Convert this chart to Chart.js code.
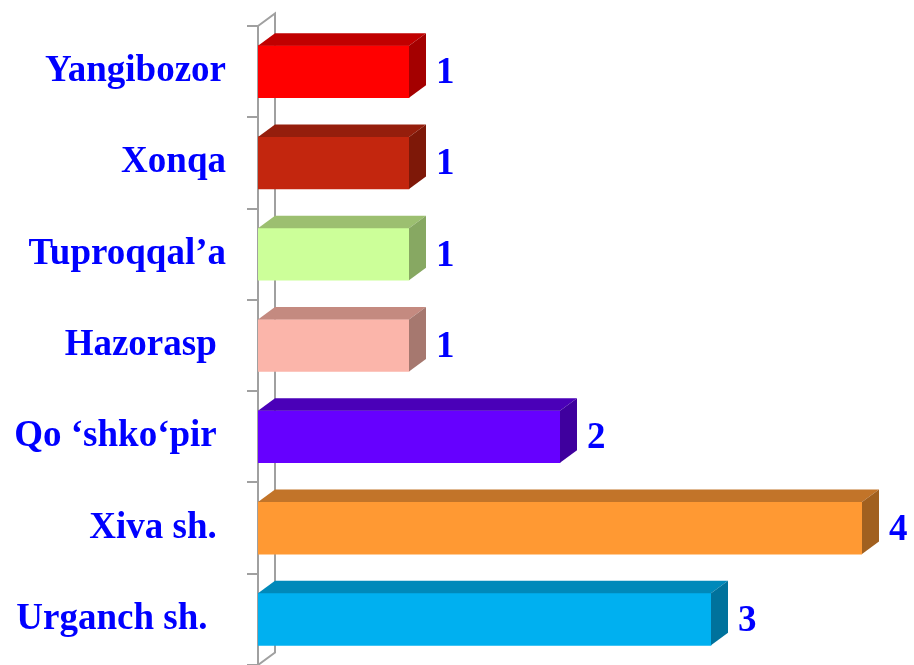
<!DOCTYPE html>
<html>
<head>
<meta charset="utf-8">
<script src="https://cdn.jsdelivr.net/npm/chart.js@4.4.0/dist/chart.umd.min.js"></script>
<style>
html,body{margin:0;padding:0;background:#fff;overflow:hidden;}
#wrap{width:914px;height:665px;position:relative;}
</style>
</head>
<body>
<div id="wrap"><canvas id="c" width="914" height="665"></canvas></div>
<script>
// Data
const categories = ["Yangibozor", "Xonqa", "Tuproqqal\u2019a", "Hazorasp ", "Qo \u2018shko\u2018pir ", "Xiva sh. ", "Urganch sh.  "];
const values = [1, 1, 1, 1, 2, 4, 3];
const frontColors = ["#FF0000", "#C3260E", "#CCFF99", "#FBB5AA", "#6600FF", "#FF9933", "#00B0F0"];
const topColors   = ["#C00000", "#951E0C", "#9CBF70", "#C48A80", "#4A00B8", "#C27429", "#0089BA"];
const sideColors  = ["#A40000", "#7E1808", "#87A862", "#A6786F", "#3F009E", "#A1601F", "#00729C"];

const DX = 17, DY = -12.5;
const LABEL_FONT = "bold 37px 'Liberation Serif', 'Times New Roman', serif";
const BLUE = "#0000FF";
const GRAY = "#A0A0A0";

const wallPlugin = {
  id: 'wall',
  beforeDatasetsDraw(chart) {
    const ctx = chart.ctx, a = chart.chartArea;
    ctx.save();
    ctx.strokeStyle = GRAY;
    ctx.lineWidth = 2;
    ctx.beginPath();
    ctx.moveTo(a.left, a.top);
    ctx.lineTo(a.left + DX, a.top + DY);
    ctx.lineTo(a.left + DX, a.bottom + DY);
    ctx.lineTo(a.left, a.bottom);
    ctx.stroke();
    ctx.restore();
  }
};

const box3dPlugin = {
  id: 'box3d',
  afterDatasetsDraw(chart) {
    const ctx = chart.ctx;
    const meta = chart.getDatasetMeta(0);
    ctx.save();
    meta.data.forEach((bar, i) => {
      const p = bar.getProps(['x', 'y', 'base', 'height'], true);
      const top = p.y - p.height / 2, bottom = p.y + p.height / 2;
      const left = p.base, right = p.x;
      // top face
      ctx.fillStyle = topColors[i];
      ctx.beginPath();
      ctx.moveTo(left, top);
      ctx.lineTo(left + DX, top + DY);
      ctx.lineTo(right + DX, top + DY);
      ctx.lineTo(right, top);
      ctx.closePath();
      ctx.fill();
      // side face
      ctx.fillStyle = sideColors[i];
      ctx.beginPath();
      ctx.moveTo(right, top);
      ctx.lineTo(right + DX, top + DY);
      ctx.lineTo(right + DX, bottom + DY);
      ctx.lineTo(right, bottom);
      ctx.closePath();
      ctx.fill();
      // value label
      ctx.fillStyle = BLUE;
      ctx.font = LABEL_FONT;
      ctx.textAlign = 'left';
      ctx.textBaseline = 'middle';
      ctx.fillText(String(values[i]), right + DX + 10, p.y + 2);
    });
    ctx.restore();
  }
};

new Chart(document.getElementById('c'), {
  type: 'bar',
  data: {
    labels: categories,
    datasets: [{
      data: values,
      backgroundColor: frontColors,
      borderWidth: 0,
      barThickness: 52
    }]
  },
  options: {
    indexAxis: 'y',
    responsive: false,
    animation: false,
    devicePixelRatio: 1,
    layout: { padding: { top: 26, right: 52, bottom: 0, left: 0 } },
    plugins: { legend: { display: false }, tooltip: { enabled: false } },
    scales: {
      x: { display: false, min: 0, max: 4 },
      y: {
        afterFit(scale) {
          scale.width = 258;
          scale.paddingTop = 0;
          scale.paddingBottom = 0;
        },
        grid: {
          display: true, drawOnChartArea: false, drawTicks: true,
          tickLength: 11, color: GRAY, lineWidth: 2, offset: true
        },
        border: { display: true, color: GRAY, width: 2 },
        ticks: {
          padding: 21,
          color: BLUE,
          font: { family: "'Liberation Serif', 'Times New Roman', serif", size: 37, weight: 'bold' }
        }
      }
    }
  },
  plugins: [wallPlugin, box3dPlugin]
});
</script>
</body>
</html>
